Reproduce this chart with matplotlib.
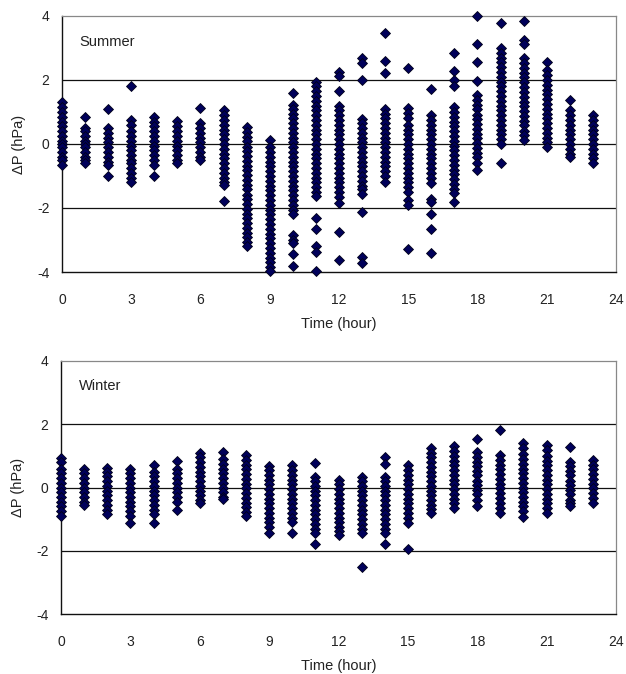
import matplotlib
matplotlib.use("Agg")
import matplotlib.pyplot as plt

hours = list(range(24))
x_ticks = [0, 3, 6, 9, 12, 15, 18, 21, 24]
y_ticks = [-4, -2, 0, 2, 4]
panel_names = ["Summer", "Winter"]

summer_values = [
    [1.3, 1.15, 1.0, 0.85, 0.7, 0.55, 0.4, 0.25, 0.1, 0.0, -0.1, -0.25, -0.4, -0.5, -0.65],
    [0.83, 0.5, 0.4, 0.25, 0.1, 0.0, -0.1, -0.25, -0.4, -0.5, -0.6],
    [1.1, 0.5, 0.35, 0.2, 0.05, -0.1, -0.25, -0.4, -0.55, -0.65, -1.0],
    [1.82, 0.75, 0.6, 0.4, 0.25, 0.1, -0.05, -0.2, -0.35, -0.5, -0.6, -0.75, -0.9, -1.05, -1.2],
    [0.85, 0.7, 0.55, 0.4, 0.25, 0.1, -0.05, -0.2, -0.35, -0.5, -0.65, -1.0],
    [0.72, 0.55, 0.4, 0.25, 0.1, -0.05, -0.2, -0.35, -0.5, -0.58],
    [1.13, 0.64, 0.5, 0.35, 0.2, 0.05, -0.1, -0.25, -0.4, -0.5],
    [1.06, 0.9, 0.75, 0.6, 0.45, 0.3, 0.15, 0.0, -0.15, -0.3, -0.45, -0.6, -0.75, -0.9, -1.05, -1.2, -1.28, -1.77],
    [0.52, 0.38, 0.22, 0.08, -0.08, -0.22, -0.38, -0.52, -0.68, -0.82, -0.98, -1.12, -1.28, -1.42, -1.58,
     -1.72, -1.88, -2.02, -2.18, -2.32, -2.48, -2.62, -2.78, -2.92, -3.05, -3.18],
    [0.12, -0.1, -0.25, -0.4, -0.55, -0.7, -0.85, -1.0, -1.15, -1.3, -1.45, -1.6, -1.75, -1.9, -2.05,
     -2.2, -2.35, -2.5, -2.65, -2.8, -2.95, -3.1, -3.25, -3.4, -3.55, -3.7, -3.85, -3.98],
    [1.58, 1.22, 1.08, 0.95, 0.8, 0.65, 0.5, 0.35, 0.2, 0.05, -0.1, -0.25, -0.4, -0.55, -0.7, -0.85,
     -1.0, -1.15, -1.3, -1.45, -1.6, -1.75, -1.9, -2.05, -2.18, -2.85, -3.0, -3.1, -3.45, -3.82],
    [1.94, 1.8, 1.65, 1.5, 1.35, 1.2, 1.05, 0.9, 0.75, 0.6, 0.45, 0.3, 0.15, 0.0, -0.15, -0.3, -0.45,
     -0.6, -0.75, -0.9, -1.05, -1.2, -1.35, -1.5, -1.62, -2.32, -2.66, -3.2, -3.36, -3.98],
    [2.24, 2.12, 1.65, 1.18, 1.05, 0.9, 0.75, 0.6, 0.45, 0.3, 0.15, 0.0, -0.15, -0.3, -0.45, -0.6,
     -0.75, -0.9, -1.05, -1.2, -1.35, -1.5, -1.65, -1.85, -2.75, -3.62],
    [2.7, 2.52, 2.0, 0.78, 0.65, 0.5, 0.35, 0.2, 0.05, -0.1, -0.25, -0.4, -0.55, -0.7, -0.85, -1.0,
     -1.15, -1.3, -1.42, -1.55, -2.14, -3.52, -3.72],
    [3.46, 2.6, 2.22, 1.1, 0.95, 0.8, 0.65, 0.5, 0.35, 0.2, 0.05, -0.1, -0.25, -0.4, -0.55, -0.7,
     -0.85, -1.0, -1.2],
    [2.38, 1.12, 0.98, 0.82, 0.6, 0.45, 0.3, 0.15, 0.0, -0.15, -0.3, -0.45, -0.6, -0.75, -0.9, -1.05,
     -1.2, -1.35, -1.5, -1.75, -1.9, -3.28],
    [1.72, 0.9, 0.75, 0.6, 0.45, 0.3, 0.15, 0.0, -0.15, -0.3, -0.45, -0.6, -0.75, -0.9, -1.05, -1.22,
     -1.72, -1.8, -2.2, -2.66, -3.4],
    [2.85, 2.28, 2.0, 1.8, 1.16, 1.0, 0.85, 0.7, 0.55, 0.4, 0.25, 0.1, -0.05, -0.2, -0.35, -0.5, -0.65,
     -0.8, -0.95, -1.08, -1.25, -1.42, -1.52, -1.8],
    [4.0, 3.12, 2.56, 1.97, 1.53, 1.38, 1.22, 1.08, 0.92, 0.78, 0.62, 0.48, 0.32, 0.18, 0.02, -0.12,
     -0.28, -0.4, -0.6, -0.8],
    [3.78, 3.0, 2.85, 2.7, 2.55, 2.4, 2.25, 2.1, 1.95, 1.8, 1.65, 1.5, 1.35, 1.2, 1.05, 0.9, 0.75, 0.6,
     0.45, 0.3, 0.15, 0.0, -0.6],
    [3.84, 3.25, 3.12, 2.68, 2.52, 2.38, 2.22, 2.08, 1.92, 1.78, 1.62, 1.48, 1.32, 1.18, 1.02, 0.88,
     0.72, 0.58, 0.42, 0.28, 0.12],
    [2.56, 2.3, 2.15, 2.0, 1.85, 1.7, 1.55, 1.4, 1.25, 1.1, 0.95, 0.8, 0.65, 0.5, 0.35, 0.2, 0.05, -0.08],
    [1.37, 1.06, 0.9, 0.75, 0.6, 0.45, 0.3, 0.15, 0.0, -0.15, -0.3, -0.4],
    [0.9, 0.75, 0.6, 0.45, 0.3, 0.15, 0.0, -0.15, -0.3, -0.45, -0.6],
]

winter_values = [
    [0.92, 0.8, 0.6, 0.45, 0.3, 0.15, 0.0, -0.15, -0.3, -0.45, -0.6, -0.75, -0.9],
    [0.6, 0.45, 0.3, 0.15, 0.0, -0.15, -0.3, -0.45, -0.55],
    [0.63, 0.5, 0.35, 0.2, 0.05, -0.1, -0.25, -0.4, -0.55, -0.7, -0.84],
    [0.6, 0.45, 0.3, 0.15, 0.0, -0.15, -0.3, -0.45, -0.6, -0.75, -0.9, -1.11],
    [0.71, 0.5, 0.35, 0.2, 0.05, -0.1, -0.25, -0.4, -0.55, -0.7, -0.85, -1.11],
    [0.85, 0.6, 0.45, 0.3, 0.15, 0.0, -0.15, -0.3, -0.45, -0.71],
    [1.08, 0.95, 0.8, 0.65, 0.5, 0.35, 0.2, 0.05, -0.1, -0.25, -0.4, -0.5],
    [1.13, 0.9, 0.75, 0.6, 0.45, 0.3, 0.15, 0.0, -0.15, -0.3, -0.37],
    [1.02, 0.88, 0.72, 0.58, 0.42, 0.28, 0.12, -0.02, -0.18, -0.32, -0.48, -0.62, -0.78, -0.9],
    [0.68, 0.55, 0.4, 0.25, 0.1, -0.05, -0.2, -0.35, -0.5, -0.65, -0.8, -0.95, -1.1, -1.25, -1.43],
    [0.71, 0.55, 0.4, 0.25, 0.1, -0.05, -0.2, -0.35, -0.5, -0.65, -0.8, -0.95, -1.08, -1.43],
    [0.79, 0.34, 0.2, 0.05, -0.1, -0.25, -0.4, -0.55, -0.7, -0.85, -1.0, -1.15, -1.3, -1.45, -1.79],
    [0.23, 0.1, -0.05, -0.2, -0.35, -0.5, -0.65, -0.8, -0.95, -1.1, -1.25, -1.38, -1.5],
    [0.34, 0.2, 0.05, -0.1, -0.25, -0.4, -0.55, -0.7, -0.85, -1.0, -1.15, -1.3, -1.45, -2.5],
    [0.95, 0.74, 0.34, 0.2, 0.05, -0.1, -0.25, -0.4, -0.55, -0.7, -0.85, -1.0, -1.15, -1.3, -1.45, -1.79],
    [0.71, 0.55, 0.4, 0.25, 0.1, -0.05, -0.2, -0.35, -0.5, -0.65, -0.8, -0.95, -1.13, -1.95],
    [1.24, 1.1, 0.95, 0.8, 0.65, 0.5, 0.35, 0.2, 0.05, -0.1, -0.25, -0.4, -0.55, -0.68, -0.8],
    [1.31, 1.15, 1.0, 0.85, 0.7, 0.55, 0.4, 0.25, 0.1, -0.05, -0.2, -0.35, -0.5, -0.66],
    [1.52, 1.13, 0.98, 0.82, 0.68, 0.52, 0.38, 0.22, 0.08, -0.08, -0.22, -0.38, -0.6],
    [1.82, 1.03, 0.88, 0.72, 0.58, 0.42, 0.28, 0.12, -0.02, -0.18, -0.32, -0.48, -0.65, -0.82],
    [1.4, 1.25, 1.05, 0.9, 0.75, 0.6, 0.45, 0.3, 0.15, 0.0, -0.15, -0.3, -0.45, -0.6, -0.75, -0.92],
    [1.34, 1.2, 1.0, 0.85, 0.7, 0.55, 0.4, 0.25, 0.1, -0.05, -0.2, -0.35, -0.5, -0.65, -0.82],
    [1.29, 0.82, 0.68, 0.52, 0.38, 0.22, 0.08, -0.08, -0.22, -0.38, -0.5, -0.6],
    [0.87, 0.72, 0.58, 0.42, 0.28, 0.12, -0.02, -0.18, -0.32, -0.5],
]

plt.rcParams['font.family'] = ['Liberation Sans', 'DejaVu Sans']
plt.rcParams['axes.unicode_minus'] = False

fig = plt.figure(figsize=(6.26, 6.74), dpi=100)
ax_top = fig.add_axes([0.0990, 0.5964, 0.8850, 0.3800])
ax_bot = fig.add_axes([0.0975, 0.0890, 0.8865, 0.3754])

for ax, name, data in [(ax_top, panel_names[0], summer_values),
                       (ax_bot, panel_names[1], winter_values)]:
    xs, ys = [], []
    for h, vals in zip(hours, data):
        xs.extend([h] * len(vals))
        ys.extend(vals)
    ax.plot(xs, ys, linestyle='none', marker='D', markersize=5.1,
            markerfacecolor='#00005a', markeredgecolor='#000018',
            markeredgewidth=0.6, zorder=3, clip_on=False)
    ax.set_xlim(0, 24)
    ax.set_ylim(-4, 4)
    ax.set_xticks(x_ticks)
    ax.set_yticks(y_ticks)
    for g in [-2, 0, 2]:
        ax.axhline(g, color='#111111', linewidth=0.9, zorder=1)
    ax.tick_params(axis='both', length=0, labelsize=10, colors='#222222')
    ax.tick_params(axis='x', pad=15)
    ax.tick_params(axis='y', pad=9)
    for s in ['top', 'right']:
        ax.spines[s].set_color('#888888')
        ax.spines[s].set_linewidth(0.9)
    for s in ['left', 'bottom']:
        ax.spines[s].set_color('#111111')
        ax.spines[s].set_linewidth(1.0)
    ax.set_xlabel('Time (hour)', fontsize=10.5, color='#222222', labelpad=7)
    ax.set_ylabel('ΔP (hPa)', fontsize=10.5, color='#222222', labelpad=8)
    ax.text(0.032, 0.90, name, transform=ax.transAxes, fontsize=10.5,
            color='#222222', va='center', ha='left')

fig.savefig('out.png', dpi=100)
